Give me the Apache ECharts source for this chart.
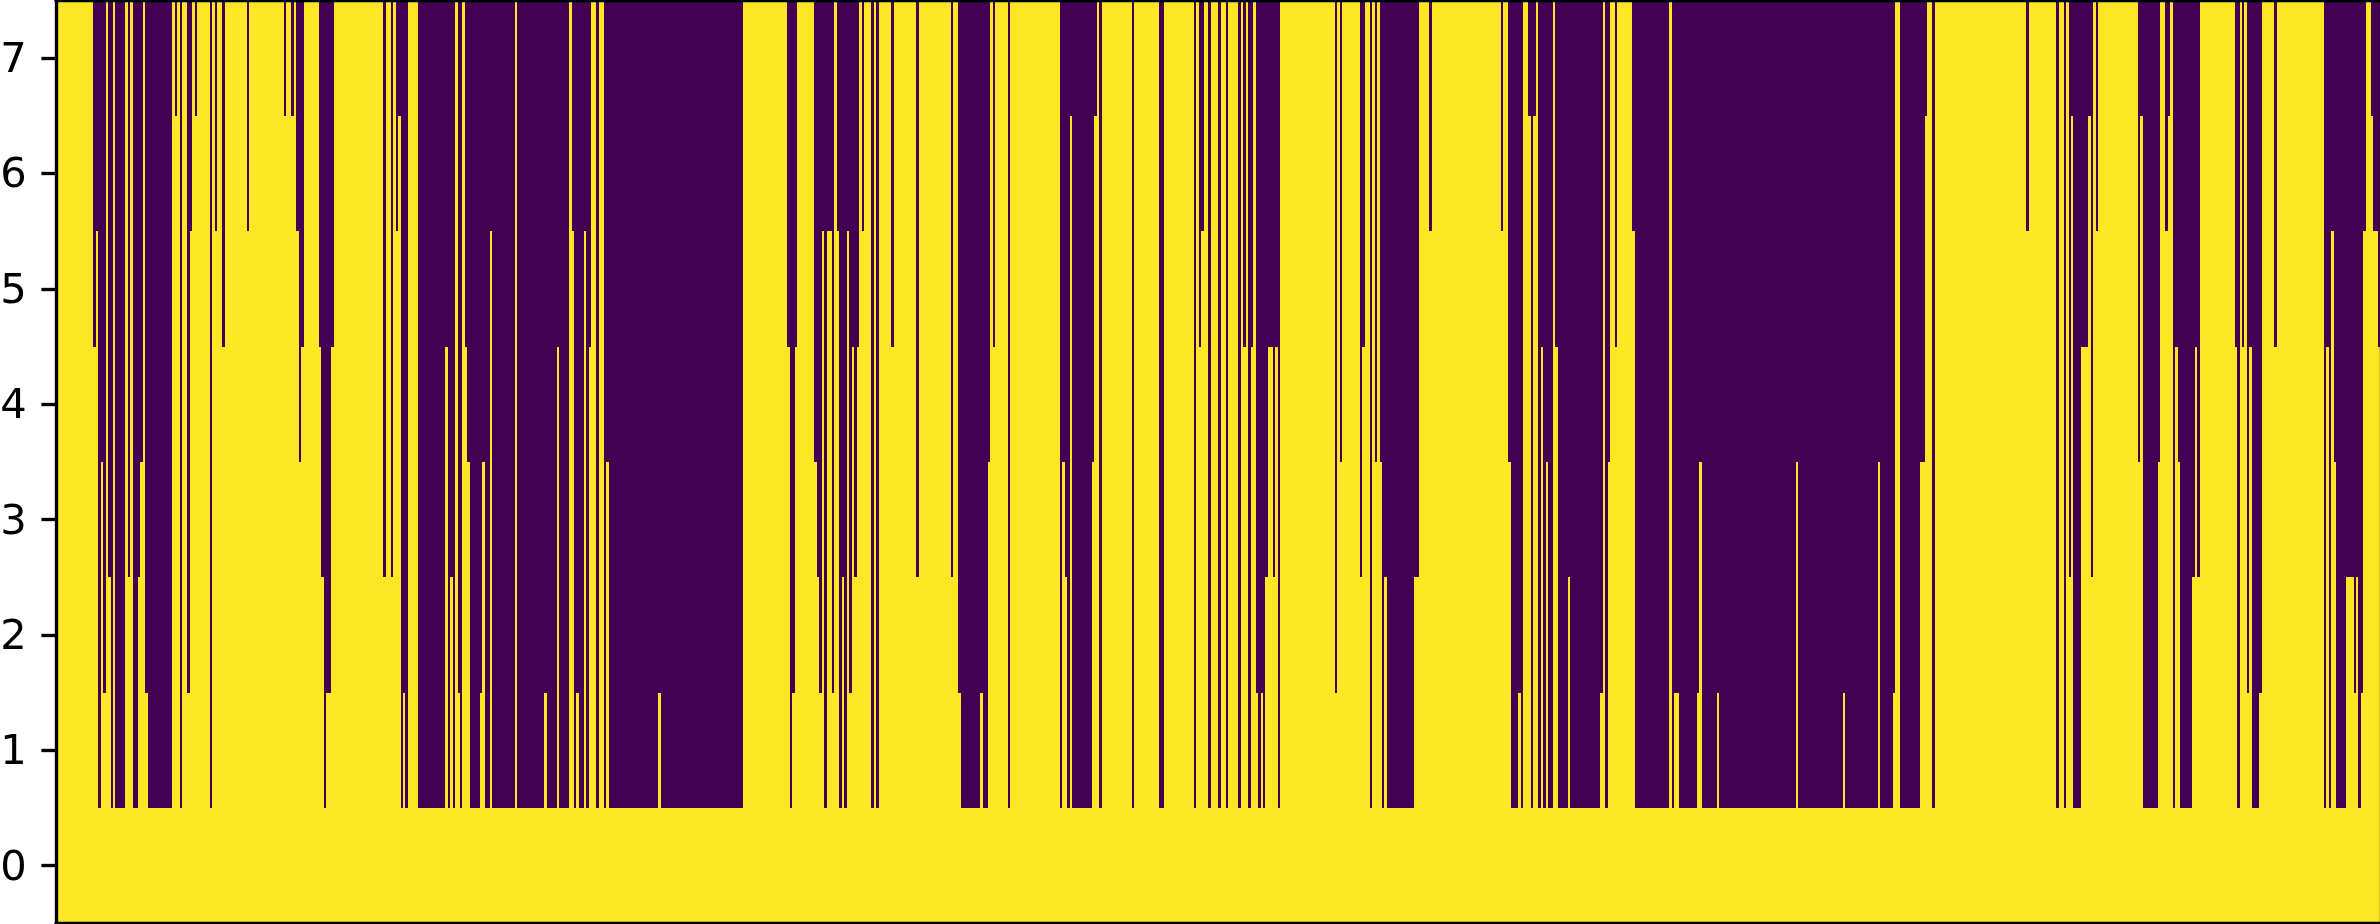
<!DOCTYPE html>
<html>
<head>
<meta charset="utf-8">
<style>html,body{margin:0;padding:0;background:#fff;overflow:hidden}#c{width:2380px;height:924px}</style>
<script src="https://cdn.jsdelivr.net/npm/echarts@6/dist/echarts.min.js"></script>
</head>
<body>
<div id="c"></div>
<script>
const rowLabels = ['0','1','2','3','4','5','6','7'];
// Runs of neighbouring columns: [number of columns, how many rows are dark counted from the top row].
const runsA = [[15,0],[1,3],[1,2],[1,7],[1,4],[1,6],[1,0],[1,5],[1,7],[1,0],
[4,7],[1,0],[1,5],[1,0],[2,7],[1,5],[1,4],[1,0],[1,6],[10,7],
[1,0],[1,1],[1,0],[1,7],[2,0],[1,6],[1,2],[1,0],[1,1],[5,0],
[1,7],[1,0],[1,2],[2,0],[1,3],[9,0],[1,2],[14,0],[1,1],[2,0],
[1,1],[1,0],[1,2],[1,4],[1,3],[6,0],[1,3],[1,5],[1,7],[2,6],
[1,3],[20,0],[1,5],[2,0],[1,5],[1,0],[1,2],[1,1]];
const runsB = [[1,7],[1,6],[1,7],[4,0],[11,7],[1,3],[1,7],[1,5],[1,7],[1,0],
[1,6],[1,7],[1,0],[1,3],[1,4],[4,7],[1,6],[1,4],[2,7],[1,2],
[9,7],[1,0],[11,7],[1,6],[4,7],[1,3],[4,7],[1,0],[1,2],[1,7],
[1,6],[2,7],[1,2],[1,7],[1,3],[2,0],[1,7],[2,0],[1,7],[1,4],
[20,7],[1,6],[33,7],[18,0],[1,3],[1,7],[1,6],[1,3],[7,0]];
const runsC = [[1,4],[1,5],[1,6],[1,2],[1,7],[2,2],[1,6],[1,0],[1,2],[1,7],
[1,5],[1,7],[1,2],[1,6],[1,3],[1,5],[1,3],[1,0],[1,2],[3,0],
[1,7],[1,0],[1,7],[5,0],[1,3],[9,0],[1,5],[13,0],[1,5],[2,0],
[1,6],[8,7],[1,6],[2,7],[1,4],[1,0],[1,3],[5,0],[1,7],[20,0],
[1,7],[1,4],[1,5],[1,7],[1,1],[8,7],[1,4],[1,1],[1,0],[1,7],
[12,0],[1,7],[10,0],[2,7],[12,0],[1,7],[1,0],[1,3],[1,2]];
const runsD = [[2,0],[1,7],[3,0],[1,7],[2,0],[1,7],[4,0],[1,7],[1,0],[1,3],
[1,0],[1,7],[1,3],[1,0],[1,6],[1,7],[1,6],[1,7],[1,5],[2,3],
[1,5],[1,3],[1,7],[22,0],[1,6],[1,0],[1,4],[7,0],[1,5],[1,3],
[2,0],[1,7],[1,0],[1,4],[1,0],[1,4],[1,7],[1,5],[11,7],[2,5],
[4,0],[1,2],[28,0],[1,2],[2,0],[1,4],[3,7],[1,6],[1,7],[2,0],
[1,1],[1,7],[1,1],[1,0],[1,7],[1,3],[1,7],[1,4],[2,7],[1,0],
[1,3],[4,7],[1,5],[12,7]];
const runsE = [[1,6],[1,0],[1,7],[1,4],[2,0],[1,3],[6,0],[1,2],[14,7],[1,0],
[1,7],[2,6],[7,7],[1,6],[1,4],[6,7],[1,6],[31,7],[1,4],[18,7],
[1,6],[13,7],[1,4],[5,7],[1,6],[2,0],[8,7],[2,4],[1,1],[2,0],
[1,7],[37,0]];
const runsF = [[1,2],[11,0],[1,7],[2,0],[1,7],[1,0],[1,5],[1,1],[3,7],[3,3],
[1,1],[1,5],[1,0],[1,2],[16,0],[1,4],[1,1],[6,7],[1,4],[2,0],
[1,2],[1,1],[1,0],[1,7],[1,3],[1,4],[5,7],[1,5],[1,3],[1,5],
[14,0],[1,3],[1,7],[1,0],[1,3],[1,0],[1,6],[1,3],[3,7],[1,6],
[5,0],[1,3],[19,0],[1,7],[1,3],[1,7],[1,2],[1,4],[4,7],[3,5],
[1,6],[1,5],[1,7],[1,6],[1,2],[2,0],[1,1],[2,2],[1,3]];

const cells = [];
let column = 0;
[...runsA, ...runsB, ...runsC, ...runsD, ...runsE, ...runsF].forEach(([len, depth]) => {
  for (let k = 0; k < len; k++, column++) {
    for (let row = 0; row < rowLabels.length; row++) {
      cells.push([column, row, row > 7 - depth ? 0 : 1]);
    }
  }
});
const columns = Array.from({length: column}, (_, i) => String(i));
const spine = {show: true, onZero: false, lineStyle: {color: '#000', width: 3.33}};
const hidden = {axisTick: {show: false}, axisLabel: {show: false}, splitLine: {show: false}};
const chart = echarts.init(document.getElementById('c'), null, {renderer: 'canvas'});
chart.setOption({
  animation: false,
  backgroundColor: '#ffffff',
  grid: {left: 56, width: 2324.8, top: 0.63, height: 922.77, show: false, containLabel: false, outerBoundsMode: 'none'},
  xAxis: [
    {type: 'category', data: columns, position: 'bottom', z: 5, axisLine: spine, ...hidden},
    {type: 'category', data: columns, position: 'top', z: 5, axisLine: spine, ...hidden}
  ],
  yAxis: [
    {type: 'category', data: rowLabels, position: 'left', z: 5, axisLine: spine,
     axisTick: {show: true, alignWithLabel: true, length: 14.6, lineStyle: {color: '#000', width: 3.33}},
     axisLabel: {show: true, fontFamily: 'DejaVu Sans', fontSize: 41.67, color: '#000', margin: 29.2, interval: 0, verticalAlign: 'top', lineHeight: 6},
     splitLine: {show: false}},
    {type: 'category', data: rowLabels, position: 'right', z: 5, axisLine: spine, ...hidden}
  ],
  series: [{
    type: 'custom',
    coordinateSystem: 'cartesian2d',
    data: cells,
    encode: {x: 0, y: 1},
    silent: true,
    clip: true,
    renderItem(params, api) {
      const c = api.coord([api.value(0), api.value(1)]);
      const s = api.size([1, 1]);
      const x0 = Math.round(c[0] - s[0] / 2), x1 = Math.round(c[0] + s[0] / 2);
      const y0 = Math.round(c[1] - s[1] / 2), y1 = Math.round(c[1] + s[1] / 2);
      return {type: 'rect', shape: {x: x0, y: y0, width: x1 - x0, height: y1 - y0},
        style: {fill: api.value(2) ? '#fde725' : '#440154'}};
    }
  }]
});
</script>
</body>
</html>
